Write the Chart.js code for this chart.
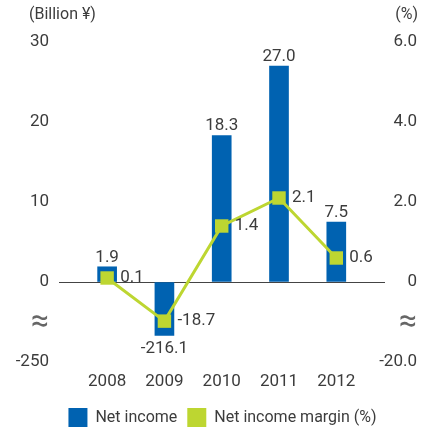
<!DOCTYPE html>
<html>
<head>
<meta charset="utf-8">
<script src="https://cdn.jsdelivr.net/npm/chart.js@4"></script>
<style>
  html, body { margin: 0; padding: 0; background: #fff; }
  #wrap { width: 430px; height: 433px; position: relative; }
</style>
</head>
<body>
<div id="wrap"><canvas id="chart"></canvas></div>
<script>
var years = ['2008', '2009', '2010', '2011', '2012'];
var netIncome = [1.9, -216.1, 18.3, 27.0, 7.5];      // billion yen
var netMargin = [0.1, -18.7, 1.4, 2.1, 0.6];         // %
var leftTickLabels = ['30', '20', '10', '0', '-250'];
var rightTickLabels = ['6.0', '4.0', '2.0', '0', '-20.0'];

// broken axis: negative values get squeezed below the zero line
var leftBreak = [[0, 0], [-200, -5.1], [-250, -10]];
var rightBreak = [[0, 0], [-19.5, -1.02], [-20, -2]];

function squash(v, brk) {
  if (v >= 0) return v;
  for (var i = 1; i < brk.length; i++) {
    var a = brk[i - 1], b = brk[i];
    if (v >= b[0]) return a[1] + (v - a[0]) / (b[0] - a[0]) * (b[1] - a[1]);
  }
  return brk[brk.length - 1][1];
}

function makeTicks(labels, brk) {
  var t = labels.map(function (s) {
    return { value: squash(parseFloat(s), brk), text: s };
  });
  t.push({ value: brk[1][1], text: '≈' });
  return t;
}

var textColor = '#3c3c3c';
var blue = '#0062b1';
var green = '#bdd631';

Chart.defaults.font.family = 'Roboto';
Chart.defaults.font.size = 17;
Chart.defaults.color = textColor;

var tickFont = function (ctx) {
  return ctx.tick && ctx.tick.text === '≈' ? { size: 32 } : { size: 17 };
};
var tickColor = function (ctx) {
  return ctx.tick && ctx.tick.text === '≈' ? '#666' : textColor;
};

var valueLabels = {
  id: 'valueLabels',
  afterDatasetsDraw: function (chart) {
    var ctx = chart.ctx;
    ctx.save();
    ctx.font = '17px Roboto';
    ctx.fillStyle = textColor;
    chart.getDatasetMeta(0).data.forEach(function (bar, i) {
      var v = netIncome[i];
      ctx.textAlign = 'center';
      if (v >= 0) {
        ctx.textBaseline = 'bottom';
        ctx.fillText(v.toFixed(1), bar.x, bar.y - 1);
      } else {
        ctx.textBaseline = 'top';
        ctx.fillText(v.toFixed(1), bar.x, bar.y + 5);
      }
    });
    chart.getDatasetMeta(1).data.forEach(function (pt, i) {
      ctx.textAlign = 'left';
      ctx.textBaseline = 'middle';
      ctx.fillText(netMargin[i].toFixed(1), pt.x + 13, pt.y);
    });
    // unit captions above both axes
    ctx.font = '16px Roboto';
    ctx.textBaseline = 'middle';
    ctx.textAlign = 'left';
    ctx.fillText('(Billion ¥)', 29, 15);
    ctx.textAlign = 'right';
    ctx.fillText('(%)', 418, 15);
    ctx.restore();
  }
};

new Chart(document.getElementById('chart'), {
  type: 'bar',
  data: {
    datasets: [
      {
        type: 'bar',
        label: 'Net income',
        data: netIncome.map(function (v, i) { return { x: i, y: squash(v, leftBreak) }; }),
        backgroundColor: blue,
        barThickness: 19,
        yAxisID: 'y',
        order: 1
      },
      {
        type: 'line',
        label: 'Net income margin (%)',
        data: netMargin.map(function (v, i) { return { x: i, y: squash(v, rightBreak) }; }),
        borderColor: green,
        backgroundColor: green,
        borderWidth: 3,
        pointStyle: 'rect',
        pointRadius: 9.5,
        pointBorderWidth: 0,
        pointBackgroundColor: green,
        yAxisID: 'y1',
        order: 0
      }
    ]
  },
  options: {
    responsive: true,
    maintainAspectRatio: false,
    animation: false,
    layout: { padding: { top: 42, right: 0, left: 15, bottom: 0 } },
    scales: {
      x: {
        type: 'linear',
        offset: false,
        min: -0.84,
        max: 4.85,
        grid: { display: false, drawTicks: false },
        border: { display: false },
        afterBuildTicks: function (s) {
          s.ticks = years.map(function (y, i) { return { value: i }; });
        },
        afterFit: function (s) { s.height = 36; },
        ticks: {
          padding: 10,
          callback: function (v) { return years[v]; }
        }
      },
      y: {
        min: -10,
        max: 30,
        border: { display: false },
        grid: {
          drawTicks: false,
          color: function (ctx) { return ctx.tick && ctx.tick.value === 0 ? '#444' : 'rgba(0,0,0,0)'; }
        },
        afterBuildTicks: function (s) { s.ticks = makeTicks(leftTickLabels, leftBreak); },
        afterFit: function (s) { s.width = 44; },
        ticks: {
          padding: 10,
          font: tickFont,
          color: tickColor,
          callback: function (v, i, t) { return t[i].text; }
        }
      },
      y1: {
        position: 'right',
        min: -2,
        max: 6,
        border: { display: false },
        grid: { display: false, drawTicks: false },
        afterBuildTicks: function (s) { s.ticks = makeTicks(rightTickLabels, rightBreak); },
        afterFit: function (s) {
          s.width = 45;
          // the big label padding should not push the plot area down
          s.paddingTop = 0;
          s.paddingBottom = 0;
        },
        ticks: {
          mirror: true,
          crossAlign: 'near',
          padding: 32,
          font: tickFont,
          color: tickColor,
          callback: function (v, i, t) { return t[i].text; }
        }
      }
    },
    plugins: {
      tooltip: { enabled: false },
      legend: {
        position: 'bottom',
        maxHeight: 35,
        labels: {
          boxWidth: 19,
          boxHeight: 19,
          padding: 10,
          font: { size: 16 },
          sort: function (a, b) { return a.datasetIndex - b.datasetIndex; },
          generateLabels: function (chart) {
            return Chart.defaults.plugins.legend.labels.generateLabels(chart).map(function (l) {
              l.lineWidth = 0;
              l.fillStyle = chart.data.datasets[l.datasetIndex].backgroundColor;
              return l;
            });
          }
        }
      }
    }
  },
  plugins: [valueLabels]
});
</script>
</body>
</html>
